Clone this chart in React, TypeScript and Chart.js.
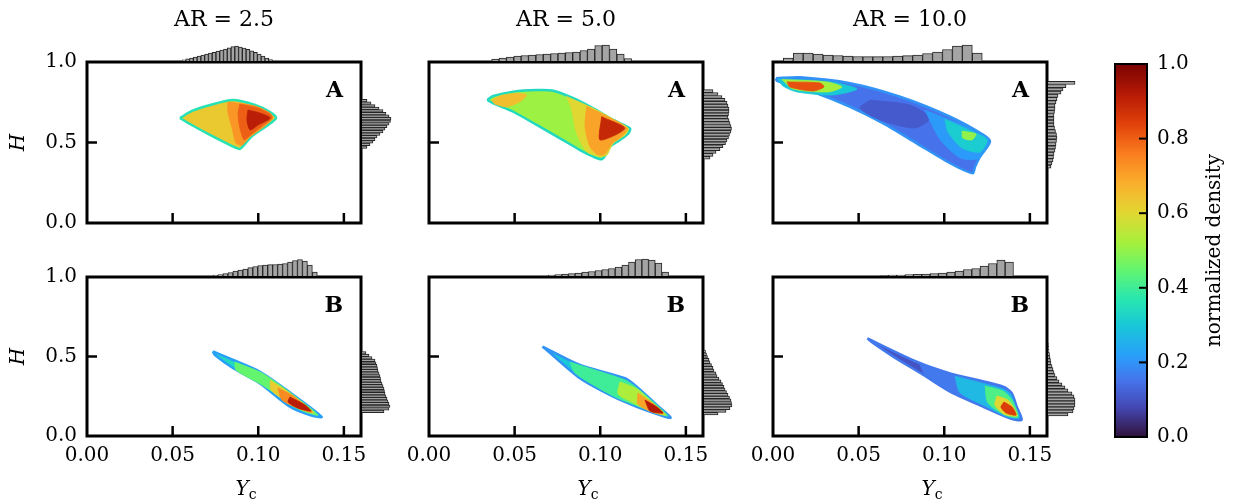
import React, { useEffect, useRef } from 'react';
import { Chart, registerables } from 'chart.js';

Chart.register(...registerables);

const FAMILY = "'DejaVu Serif', 'Liberation Serif', serif";
Chart.defaults.font.family = FAMILY;
Chart.defaults.color = '#000';

// ---------- axes / labels ----------
const X_MIN = 0;
const X_MAX = 0.16;
const Y_MIN = 0;
const Y_MAX = 1;
const X_TICKS = [0, 0.05, 0.1, 0.15];
const Y_TICKS = [0, 0.5, 1.0];
const CB_TICKS = [0, 0.2, 0.4, 0.6, 0.8, 1.0];
const AR_LABELS = ['2.5', '5.0', '10.0'];
const ROW_LETTERS = ['A', 'B'];
const X_LABEL_MAIN = 'Y';
const X_LABEL_SUB = 'c';
const Y_LABEL = 'H';
const CB_LABEL = 'normalized density';
const TOP_HIST_MAX = 18;
const RIGHT_HIST_MAX = 30;

// colormap stops (t, r, g, b)
const CMAP_STOPS: number[][] = [
  [0.0, 48, 18, 59], [0.08, 68, 72, 180], [0.15, 70, 115, 235], [0.22, 40, 160, 250],
  [0.3, 25, 200, 215], [0.37, 40, 230, 175], [0.45, 100, 245, 110], [0.52, 165, 240, 60],
  [0.6, 225, 215, 50], [0.68, 250, 175, 45], [0.76, 250, 125, 30], [0.84, 225, 65, 10],
  [0.92, 180, 25, 5], [1.0, 122, 4, 3],
];

// ---------- AR = 2.5, A ----------
const A25_P0 = [[0.0543, 0.652], [0.0613, 0.696], [0.0718, 0.733], [0.0853, 0.764], [0.0981, 0.733], [0.1069, 0.689], [0.1104, 0.652], [0.1057, 0.609], [0.0964, 0.54], [0.0917, 0.484], [0.0893, 0.46], [0.0847, 0.478], [0.0718, 0.547], [0.0601, 0.615]];
const A25_P1 = [[0.0823, 0.752], [0.0981, 0.727], [0.1069, 0.683], [0.1086, 0.652], [0.1039, 0.602], [0.0952, 0.534], [0.0905, 0.484], [0.087, 0.497], [0.0847, 0.59], [0.0823, 0.689]];
const A25_P2 = [[0.0893, 0.739], [0.0999, 0.714], [0.1069, 0.677], [0.108, 0.652], [0.1022, 0.602], [0.094, 0.534], [0.0917, 0.516], [0.0893, 0.59], [0.0882, 0.677]];
const A25_P3 = [[0.094, 0.702], [0.101, 0.683], [0.1069, 0.652], [0.0999, 0.609], [0.0952, 0.578], [0.0934, 0.64]];
const A25_LEVELS = [0.63, 0.72, 0.8, 0.91];
const A25_EDGE = 0.36;
const A25_TOP_START = 0.0555;
const A25_TOP_BIN = 0.0022;
const A25_TOP = [1.2, 2.2, 3, 4, 5, 6, 6.8, 7.8, 8.7, 9.8, 10.8, 12, 13.2, 14.5, 15, 14, 12.8, 11.7, 10.2, 8.7, 6.8, 5, 3, 1.5];
const A25_RIGHT_START = 0.464;
const A25_RIGHT_BIN = 0.016;
const A25_RIGHT = [5, 8, 11, 13, 15, 18, 21, 23, 25, 27, 28.5, 29, 27, 24, 21, 17, 13, 9, 5];

// ---------- AR = 5.0, A ----------
const A50_P0 = [[0.034, 0.764], [0.0375, 0.789], [0.0492, 0.816], [0.0629, 0.826], [0.0726, 0.822], [0.0843, 0.775], [0.0959, 0.712], [0.1076, 0.64], [0.1174, 0.588], [0.1164, 0.557], [0.1115, 0.516], [0.1057, 0.474], [0.1038, 0.433], [0.1008, 0.396], [0.0959, 0.412], [0.0882, 0.453], [0.0765, 0.526], [0.0629, 0.609], [0.0492, 0.691], [0.0375, 0.743]];
const A50_P1 = [[0.0366, 0.764], [0.0415, 0.789], [0.0512, 0.806], [0.057, 0.795], [0.0531, 0.753], [0.0454, 0.722], [0.0385, 0.739]];
const A50_P2 = [[0.0804, 0.785], [0.0959, 0.712], [0.1076, 0.645], [0.1164, 0.588], [0.1145, 0.547], [0.1076, 0.495], [0.1038, 0.422], [0.0999, 0.412], [0.0921, 0.443], [0.0862, 0.557], [0.0833, 0.702]];
const A50_P3 = [[0.0921, 0.725], [0.1076, 0.643], [0.1158, 0.588], [0.1135, 0.547], [0.1067, 0.491], [0.1028, 0.429], [0.0989, 0.422], [0.094, 0.474], [0.0911, 0.598]];
const A50_P4 = [[0.1008, 0.66], [0.1144, 0.588], [0.0999, 0.516]];
const A50_LEVELS = [0.51, 0.65, 0.6, 0.7, 0.89];
const A50_EDGE = 0.34;
const A50_TOP_START = 0.0366;
const A50_TOP_BIN = 0.0043;
const A50_TOP = [2, 3, 4, 5, 5.5, 6, 6.5, 7, 7.5, 8, 8.5, 9, 10.5, 12, 15.5, 16, 12, 7, 2.5];
const A50_RIGHT_START = 0.396;
const A50_RIGHT_BIN = 0.018;
const A50_RIGHT = [6, 9, 12, 16, 19, 21.5, 23, 24.5, 25.5, 27, 27.5, 27, 26, 25, 24, 24.5, 25, 25, 24, 23, 21, 18, 14, 9];

// ---------- AR = 10.0, A ----------
const A100_P0 = [[0.0018, 0.899], [0.0158, 0.905], [0.045, 0.868], [0.0742, 0.784], [0.1034, 0.66], [0.1228, 0.547], [0.1267, 0.505], [0.1209, 0.412], [0.118, 0.35], [0.1166, 0.309], [0.1034, 0.371], [0.0839, 0.495], [0.0644, 0.619], [0.045, 0.722], [0.0255, 0.806], [0.0099, 0.857], [0.0022, 0.884]];
const A100_P1 = [[0.0566, 0.764], [0.08, 0.733], [0.0917, 0.652], [0.0829, 0.59], [0.0625, 0.64], [0.0508, 0.714]];
const A100_P2 = [[0.0888, 0.7], [0.1092, 0.615], [0.1238, 0.54], [0.1262, 0.503], [0.12, 0.4], [0.1092, 0.405], [0.0975, 0.52]];
const A100_P3 = [[0.1004, 0.645], [0.118, 0.56], [0.125, 0.516], [0.1209, 0.441], [0.1104, 0.466], [0.1022, 0.565]];
const A100_P4 = [[0.1104, 0.571], [0.1185, 0.553], [0.1162, 0.516], [0.1109, 0.528]];
const A100_P5 = [[0.0029, 0.894], [0.0216, 0.888], [0.0374, 0.87], [0.0491, 0.832], [0.035, 0.795], [0.014, 0.814], [0.0058, 0.851]];
const A100_P6 = [[0.0053, 0.891], [0.0315, 0.876], [0.0403, 0.845], [0.0321, 0.814], [0.0117, 0.832]];
const A100_P7 = [[0.0082, 0.876], [0.0274, 0.87], [0.0298, 0.845], [0.0234, 0.82], [0.0099, 0.845]];
const A100_LEVELS = [0.15, 0.11, 0.21, 0.31, 0.5, 0.3, 0.52, 0.82];
const A100_EDGE = 0.2;
const A100_TOP_START = 0.006;
const A100_TOP_BIN = 0.00581;
const A100_TOP = [3, 8, 8, 7, 6, 5.5, 5, 4.5, 4.3, 4.3, 4.5, 5, 5.3, 6, 7.5, 9, 11.5, 15, 16, 8];
const A100_RIGHT_START = 0.34;
const A100_RIGHT_BIN = 0.02;
const A100_RIGHT = [3, 4, 5, 5.5, 6, 7, 7.5, 8, 8.5, 9, 8.5, 7.5, 6.5, 6, 6, 6, 6, 6.5, 7, 7, 8, 9, 10, 13, 15, 18, 27];

// ---------- AR = 2.5, B ----------
const B25_P0 = [[0.0735, 0.532], [0.0854, 0.478], [0.101, 0.404], [0.1166, 0.289], [0.137, 0.121], [0.1302, 0.132], [0.1185, 0.184], [0.101, 0.331], [0.0854, 0.426], [0.0747, 0.509]];
const B25_P1 = [[0.0864, 0.465], [0.1022, 0.396], [0.1174, 0.283], [0.1349, 0.132], [0.1244, 0.165], [0.1022, 0.321], [0.087, 0.415]];
const B25_P2 = [[0.107, 0.35], [0.1174, 0.277], [0.1326, 0.145], [0.125, 0.168], [0.114, 0.235], [0.1075, 0.29]];
const B25_P3 = [[0.1115, 0.302], [0.1203, 0.252], [0.1314, 0.151], [0.1244, 0.17], [0.1139, 0.226]];
const B25_P4 = [[0.1185, 0.245], [0.1273, 0.195], [0.1308, 0.157], [0.1232, 0.175], [0.1174, 0.214]];
const B25_LEVELS = [0.34, 0.45, 0.62, 0.74, 0.91];
const B25_EDGE = 0.22;
const B25_TOP_START = 0.0736;
const B25_TOP_BIN = 0.0029;
const B25_TOP = [1, 1.5, 2.5, 3.5, 5, 6, 7, 8.3, 9.5, 10.5, 11, 11.3, 11.5, 12, 12.5, 14, 15.5, 16.5, 15, 11, 4];
const B25_RIGHT_START = 0.147;
const B25_RIGHT_BIN = 0.016;
const B25_RIGHT = [22, 27, 28, 27, 26, 25, 24, 23, 22.5, 22, 21, 20, 19, 18.5, 18, 17, 16, 15.5, 15, 14, 13, 10, 7, 4];

// ---------- AR = 5.0, B ----------
const B50_P0 = [[0.0662, 0.562], [0.0882, 0.447], [0.1145, 0.363], [0.1213, 0.31], [0.133, 0.195], [0.1411, 0.115], [0.1349, 0.132], [0.1213, 0.184], [0.1076, 0.247], [0.0882, 0.363], [0.0687, 0.541]];
const B50_P1 = [[0.0823, 0.465], [0.1145, 0.352], [0.1215, 0.302], [0.1331, 0.195], [0.1396, 0.126], [0.1349, 0.138], [0.1215, 0.189], [0.1074, 0.252], [0.0853, 0.395]];
const B50_P2 = [[0.1115, 0.34], [0.1215, 0.296], [0.1326, 0.189], [0.1384, 0.132], [0.132, 0.145], [0.1191, 0.208], [0.1104, 0.264]];
const B50_P3 = [[0.122, 0.27], [0.132, 0.195], [0.1372, 0.138], [0.1302, 0.151], [0.122, 0.201]];
const B50_P4 = [[0.1261, 0.226], [0.1331, 0.182], [0.1366, 0.145], [0.1291, 0.157]];
const B50_LEVELS = [0.3, 0.4, 0.53, 0.7, 0.92];
const B50_EDGE = 0.2;
const B50_TOP_START = 0.0697;
const B50_TOP_BIN = 0.0039;
const B50_TOP = [1, 1.3, 2, 2.5, 3, 4, 4.5, 5.5, 6.5, 7.5, 9, 11, 14, 16.5, 17, 16, 13, 4];
const B50_RIGHT_START = 0.132;
const B50_RIGHT_BIN = 0.017;
const B50_RIGHT = [14, 22, 26, 28, 27.5, 27, 25.5, 24, 22.5, 21, 20, 18.5, 17, 15, 13, 12, 10, 9, 7.5, 6, 5, 3.5, 2.5, 1.5];

// ---------- AR = 10.0, B ----------
const B100_P0 = [[0.0551, 0.614], [0.0839, 0.467], [0.1034, 0.394], [0.1345, 0.31], [0.1394, 0.269], [0.1423, 0.184], [0.1452, 0.101], [0.1384, 0.111], [0.1228, 0.184], [0.1034, 0.279], [0.0878, 0.384], [0.0702, 0.499], [0.0586, 0.583]];
const B100_P1 = [[0.0858, 0.45], [0.1034, 0.388], [0.1343, 0.303], [0.139, 0.265], [0.142, 0.182], [0.1445, 0.108], [0.1384, 0.115], [0.1226, 0.188], [0.1034, 0.283], [0.0888, 0.385]];
const B100_P2 = [[0.1063, 0.376], [0.1337, 0.298], [0.1388, 0.262], [0.1417, 0.18], [0.144, 0.113], [0.1372, 0.119], [0.1238, 0.189], [0.1092, 0.272]];
const B100_P3 = [[0.1238, 0.314], [0.1343, 0.283], [0.1396, 0.226], [0.1431, 0.119], [0.1355, 0.132], [0.1255, 0.208]];
const B100_P4 = [[0.1308, 0.252], [0.1372, 0.226], [0.1413, 0.164], [0.1425, 0.126], [0.1349, 0.138], [0.1296, 0.195]];
const B100_P5 = [[0.1349, 0.214], [0.1396, 0.182], [0.1419, 0.132], [0.1361, 0.145], [0.1331, 0.182]];
const B100_LEVELS = [0.1, 0.16, 0.27, 0.42, 0.6, 0.85];
const B100_EDGE = 0.16;
const B100_TOP_START = 0.0625;
const B100_TOP_BIN = 0.00487;
const B100_TOP = [0.5, 0.8, 1, 1.3, 1.6, 2, 2.5, 3, 4, 5, 6.5, 7.5, 10, 12.5, 16, 14];
const B100_RIGHT_START = 0.126;
const B100_RIGHT_BIN = 0.019;
const B100_RIGHT = [20, 25, 26, 27, 27, 27, 26, 24, 20, 17, 14, 11, 9, 7, 6, 5, 4, 3, 2.5, 2, 1.5, 1, 0.8, 0.5];

// ---------- layout (pixels) ----------
const COL_LEFT = [87, 429, 773];
const BOX_W = 274;
const ROW_TOP = [62, 277];
const ROW_BOTTOM = [223, 436];
const CANVAS_TOP = [0, 250];
const CANVAS_H = [250, 254];
const AXIS_W = 87;
const RIGHT_PAD = 30;
const HIST_FILL = '#a4a4a4';
const HIST_EDGE = '#262626';
const TICK_SIZE = 20;
const TITLE_SIZE = 22;

type Hist = { start: number; width: number; values: number[] };
type Panel = { row: number; col: number; polys: number[][][]; levels: number[]; edge: number; top: Hist; right: Hist };

const PANELS: Panel[] = [
  { row: 0, col: 0, polys: [A25_P0, A25_P1, A25_P2, A25_P3], levels: A25_LEVELS, edge: A25_EDGE,
    top: { start: A25_TOP_START, width: A25_TOP_BIN, values: A25_TOP }, right: { start: A25_RIGHT_START, width: A25_RIGHT_BIN, values: A25_RIGHT } },
  { row: 0, col: 1, polys: [A50_P0, A50_P1, A50_P2, A50_P3, A50_P4], levels: A50_LEVELS, edge: A50_EDGE,
    top: { start: A50_TOP_START, width: A50_TOP_BIN, values: A50_TOP }, right: { start: A50_RIGHT_START, width: A50_RIGHT_BIN, values: A50_RIGHT } },
  { row: 0, col: 2, polys: [A100_P0, A100_P1, A100_P2, A100_P3, A100_P4, A100_P5, A100_P6, A100_P7], levels: A100_LEVELS, edge: A100_EDGE,
    top: { start: A100_TOP_START, width: A100_TOP_BIN, values: A100_TOP }, right: { start: A100_RIGHT_START, width: A100_RIGHT_BIN, values: A100_RIGHT } },
  { row: 1, col: 0, polys: [B25_P0, B25_P1, B25_P2, B25_P3, B25_P4], levels: B25_LEVELS, edge: B25_EDGE,
    top: { start: B25_TOP_START, width: B25_TOP_BIN, values: B25_TOP }, right: { start: B25_RIGHT_START, width: B25_RIGHT_BIN, values: B25_RIGHT } },
  { row: 1, col: 1, polys: [B50_P0, B50_P1, B50_P2, B50_P3, B50_P4], levels: B50_LEVELS, edge: B50_EDGE,
    top: { start: B50_TOP_START, width: B50_TOP_BIN, values: B50_TOP }, right: { start: B50_RIGHT_START, width: B50_RIGHT_BIN, values: B50_RIGHT } },
  { row: 1, col: 2, polys: [B100_P0, B100_P1, B100_P2, B100_P3, B100_P4, B100_P5], levels: B100_LEVELS, edge: B100_EDGE,
    top: { start: B100_TOP_START, width: B100_TOP_BIN, values: B100_TOP }, right: { start: B100_RIGHT_START, width: B100_RIGHT_BIN, values: B100_RIGHT } },
];

function cmapRGB(t: number): number[] {
  const v = Math.max(0, Math.min(1, t));
  for (let i = 1; i < CMAP_STOPS.length; i++) {
    const a = CMAP_STOPS[i - 1];
    const b = CMAP_STOPS[i];
    if (v <= b[0]) {
      const f = (v - a[0]) / (b[0] - a[0]);
      return [a[1] + f * (b[1] - a[1]), a[2] + f * (b[2] - a[2]), a[3] + f * (b[3] - a[3])];
    }
  }
  const l = CMAP_STOPS[CMAP_STOPS.length - 1];
  return [l[1], l[2], l[3]];
}
function cmap(t: number): string {
  const [r, g, b] = cmapRGB(t);
  return `rgb(${Math.round(r)},${Math.round(g)},${Math.round(b)})`;
}

const framePlugin = {
  id: 'frame',
  afterDatasetsDraw(chart: any, _args: any, opts: any) {
    const { ctx, chartArea: a, scales } = chart;
    ctx.save();
    ctx.strokeStyle = '#000';
    ctx.lineCap = 'butt';
    ctx.lineWidth = 2.5;
    X_TICKS.forEach((v) => {
      const x = scales.x.getPixelForValue(v);
      if (x - a.left < 3 || a.right - x < 3) return;
      ctx.beginPath();
      ctx.moveTo(x, a.bottom);
      ctx.lineTo(x, a.bottom - 10);
      ctx.stroke();
    });
    Y_TICKS.forEach((v) => {
      const y = scales.y.getPixelForValue(v);
      if (y - a.top < 3 || a.bottom - y < 3) return;
      ctx.beginPath();
      ctx.moveTo(a.left, y);
      ctx.lineTo(a.left + 10, y);
      ctx.stroke();
    });
    ctx.lineWidth = 3;
    ctx.strokeRect(a.left, a.top, a.right - a.left, a.bottom - a.top);
    ctx.fillStyle = '#000';
    if (opts && opts.letter) {
      ctx.font = `bold 22px ${FAMILY}`;
      ctx.textAlign = 'right';
      ctx.textBaseline = 'middle';
      ctx.fillText(opts.letter, a.right - 18, a.top + 29);
    }
    if (opts && opts.xlabel) {
      ctx.textAlign = 'left';
      ctx.textBaseline = 'alphabetic';
      ctx.font = `italic 20px ${FAMILY}`;
      const wY = ctx.measureText(X_LABEL_MAIN).width;
      ctx.font = `14px ${FAMILY}`;
      const wc = ctx.measureText(X_LABEL_SUB).width;
      const cx = (a.left + a.right) / 2 + 22;
      const x0 = cx - (wY + wc) / 2;
      const base = opts.xlabelY;
      ctx.font = `italic 20px ${FAMILY}`;
      ctx.fillText(X_LABEL_MAIN, x0, base);
      ctx.font = `14px ${FAMILY}`;
      ctx.fillText(X_LABEL_SUB, x0 + wY, base + 4);
    }
    ctx.restore();
  },
};

const colorbarPlugin = {
  id: 'cbframe',
  afterDraw(chart: any) {
    const { ctx, chartArea: a, scales } = chart;
    ctx.save();
    ctx.strokeStyle = '#000';
    ctx.lineWidth = 2;
    CB_TICKS.forEach((v) => {
      const y = scales.y.getPixelForValue(v);
      ctx.beginPath();
      ctx.moveTo(a.right, y);
      ctx.lineTo(a.right - 8, y);
      ctx.stroke();
    });
    ctx.strokeRect(a.left, a.top, a.right - a.left, a.bottom - a.top);
    ctx.translate(a.right + 68, (a.top + a.bottom) / 2);
    ctx.rotate(-Math.PI / 2);
    ctx.fillStyle = '#000';
    ctx.font = `20px ${FAMILY}`;
    ctx.textAlign = 'center';
    ctx.textBaseline = 'middle';
    ctx.fillText(CB_LABEL, 0, 0);
    ctx.restore();
  },
};

function mainConfig(p: Panel): any {
  const ct = CANVAS_TOP[p.row];
  const chartTop = ROW_TOP[p.row] - ct;
  const chartBottom = ROW_BOTTOM[p.row] - ct;
  const xAxisH = CANVAS_H[p.row] - chartBottom;
  const isTop = p.row === 0;
  const isBottom = p.row === 1;
  const isLeft = p.col === 0;
  const titleLH = TITLE_SIZE * 1.2;
  const titlePadTop = 20 - titleLH / 2;
  const datasets = p.polys.map((poly, i) => {
    const pts = poly.map(([x, y]) => ({ x, y }));
    pts.push({ ...pts[0] });
    return {
      data: pts,
      fill: 'shape',
      backgroundColor: cmap(p.levels[i]),
      borderColor: i === 0 ? cmap(p.edge) : cmap(p.levels[i]),
      borderWidth: i === 0 ? 2.5 : 0.8,
      pointRadius: 0,
      pointHoverRadius: 0,
      tension: 0.25,
      order: 100 - i,
    };
  });
  return {
    type: 'line',
    data: { datasets },
    options: {
      animation: false,
      responsive: false,
      events: [],
      layout: { padding: { left: 0, right: RIGHT_PAD, top: isTop ? 0 : chartTop, bottom: 0 } },
      plugins: {
        legend: { display: false },
        tooltip: { enabled: false },
        title: {
          display: isTop,
          text: `AR = ${AR_LABELS[p.col]}`,
          fullSize: false,
          color: '#000',
          font: { family: FAMILY, size: TITLE_SIZE, weight: 'normal' },
          padding: { top: titlePadTop, bottom: chartTop - titlePadTop - titleLH },
        },
        frame: { letter: ROW_LETTERS[p.row], xlabel: isBottom, xlabelY: 495 - ct },
      },
      scales: {
        x: {
          type: 'linear', min: X_MIN, max: X_MAX, offset: false,
          afterBuildTicks: (s: any) => { s.ticks = X_TICKS.map((v) => ({ value: v })); },
          afterFit: (s: any) => { s.height = xAxisH; },
          grid: { display: false, drawTicks: false },
          border: { display: false },
          ticks: {
            display: isBottom, padding: 8, color: '#000', font: { family: FAMILY, size: TICK_SIZE },
            autoSkip: false, maxRotation: 0, minRotation: 0,
            callback: (v: any) => Number(v).toFixed(2),
          },
        },
        y: {
          type: 'linear', min: Y_MIN, max: Y_MAX, offset: false,
          afterBuildTicks: (s: any) => { s.ticks = Y_TICKS.map((v) => ({ value: v })); },
          afterFit: (s: any) => { s.width = AXIS_W; },
          grid: { display: false, drawTicks: false },
          border: { display: false },
          ticks: {
            display: isLeft, padding: 10, color: '#000', font: { family: FAMILY, size: TICK_SIZE },
            autoSkip: false,
            callback: (v: any) => Number(v).toFixed(1),
          },
          title: {
            display: isLeft, text: Y_LABEL, color: '#000',
            font: { family: FAMILY, size: TICK_SIZE, style: 'italic' },
            padding: { top: 7, bottom: 0 },
          },
        },
      },
    },
    plugins: [framePlugin],
  };
}

function histDataset(data: any[]): any {
  return {
    data,
    backgroundColor: HIST_FILL,
    borderColor: HIST_EDGE,
    borderWidth: 1,
    borderSkipped: 'start',
    barPercentage: 1,
    categoryPercentage: 1,
  };
}

function topHistConfig(h: Hist): any {
  const data = h.values.map((v, i) => ({ x: h.start + (i + 0.5) * h.width, y: v }));
  return {
    type: 'bar',
    data: { datasets: [histDataset(data)] },
    options: {
      animation: false, responsive: false, events: [],
      layout: { padding: 0 },
      plugins: { legend: { display: false }, tooltip: { enabled: false } },
      scales: {
        x: {
          type: 'linear', display: false, min: X_MIN, max: X_MAX, offset: false,
          afterBuildTicks: (s: any) => { s.ticks = [{ value: X_MIN }, { value: X_MAX }]; },
        },
        y: { type: 'linear', display: false, min: 0, max: TOP_HIST_MAX },
      },
    },
  };
}

function rightHistConfig(h: Hist): any {
  const data = h.values.map((v, i) => ({ y: h.start + (i + 0.5) * h.width, x: v }));
  return {
    type: 'bar',
    data: { datasets: [histDataset(data)] },
    options: {
      indexAxis: 'y',
      animation: false, responsive: false, events: [],
      layout: { padding: 0 },
      plugins: { legend: { display: false }, tooltip: { enabled: false } },
      scales: {
        y: {
          type: 'linear', display: false, min: Y_MIN, max: Y_MAX, offset: false,
          afterBuildTicks: (s: any) => { s.ticks = [{ value: Y_MIN }, { value: Y_MAX }]; },
        },
        x: { type: 'linear', display: false, min: 0, max: RIGHT_HIST_MAX },
      },
    },
  };
}

function colorbarConfig(): any {
  return {
    type: 'bar',
    data: {
      labels: [''],
      datasets: [{
        data: [[0, 1]],
        backgroundColor: (c: any) => {
          const ca = c.chart.chartArea;
          if (!ca) return '#000';
          const g = c.chart.ctx.createLinearGradient(0, ca.bottom, 0, ca.top);
          CMAP_STOPS.forEach((s) => g.addColorStop(s[0], `rgb(${s[1]},${s[2]},${s[3]})`));
          return g;
        },
        borderWidth: 0,
        barPercentage: 1,
        categoryPercentage: 1,
      }],
    },
    options: {
      animation: false, responsive: false, events: [],
      layout: { padding: { left: 15, top: 64, bottom: 67, right: 0 } },
      plugins: { legend: { display: false }, tooltip: { enabled: false } },
      scales: {
        x: { display: false },
        y: {
          position: 'right', min: 0, max: 1,
          afterBuildTicks: (s: any) => { s.ticks = CB_TICKS.map((v) => ({ value: v })); },
          afterFit: (s: any) => { s.width = 87; },
          grid: { display: false, drawTicks: false },
          border: { display: false },
          ticks: {
            padding: 10, color: '#000', font: { family: FAMILY, size: TICK_SIZE },
            callback: (v: any) => Number(v).toFixed(1),
          },
        },
      },
    },
    plugins: [colorbarPlugin],
  };
}

function ChartBox(props: { left: number; top: number; width: number; height: number; make: () => any }) {
  const ref = useRef<HTMLCanvasElement>(null);
  useEffect(() => {
    const chart = new Chart(ref.current as HTMLCanvasElement, props.make());
    return () => chart.destroy();
  }, []);
  return (
    <canvas
      ref={ref}
      width={props.width}
      height={props.height}
      style={{ position: 'absolute', left: props.left, top: props.top, width: props.width, height: props.height }}
    />
  );
}

export default function App() {
  return (
    <div style={{ position: 'fixed', left: 0, top: 0, width: 1234, height: 504, background: '#fff', overflow: 'hidden' }}>
      {PANELS.map((p) => (
        <ChartBox
          key={`m${p.row}${p.col}`}
          left={COL_LEFT[p.col] - AXIS_W}
          top={CANVAS_TOP[p.row]}
          width={AXIS_W + BOX_W + RIGHT_PAD}
          height={CANVAS_H[p.row]}
          make={() => mainConfig(p)}
        />
      ))}
      {PANELS.map((p) => (
        <ChartBox
          key={`t${p.row}${p.col}`}
          left={COL_LEFT[p.col]}
          top={ROW_TOP[p.row] - 19}
          width={BOX_W}
          height={18}
          make={() => topHistConfig(p.top)}
        />
      ))}
      {PANELS.map((p) => (
        <ChartBox
          key={`r${p.row}${p.col}`}
          left={COL_LEFT[p.col] + BOX_W + 1}
          top={ROW_TOP[p.row]}
          width={30}
          height={ROW_BOTTOM[p.row] - ROW_TOP[p.row]}
          make={() => rightHistConfig(p.right)}
        />
      ))}
      <ChartBox left={1100} top={0} width={134} height={504} make={colorbarConfig} />
    </div>
  );
}
